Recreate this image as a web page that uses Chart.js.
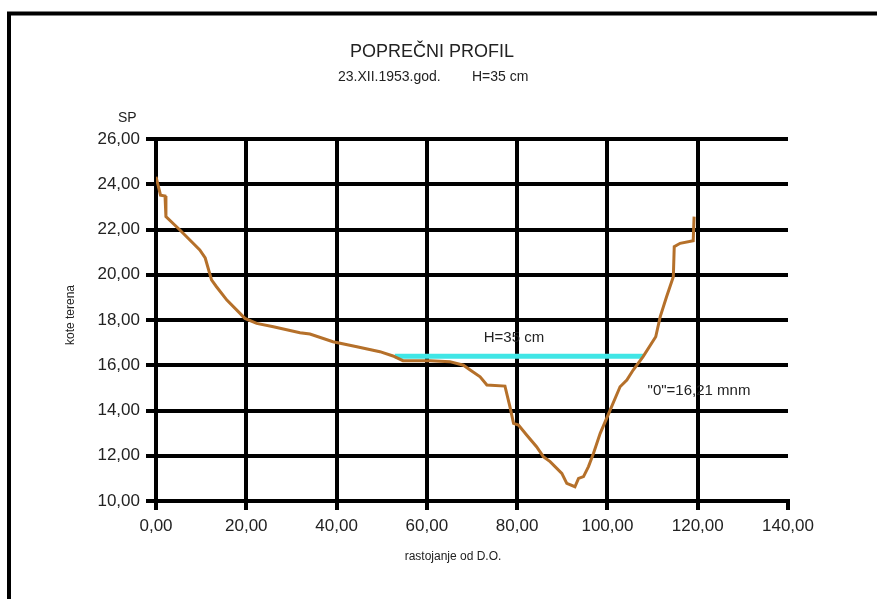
<!DOCTYPE html>
<html>
<head>
<meta charset="utf-8">
<script src="https://cdn.jsdelivr.net/npm/chart.js@4"></script>
<style>
  body { margin: 0; background: #fff; }
  #wrap { width: 877px; height: 599px; position: relative; }
</style>
</head>
<body>
<div id="wrap"><canvas id="profil"></canvas></div>
<script>
// rastojanje od D.O. (m) i kote terena (m n.m.)
const distances = [0, 1.0, 2.0, 2.2, 5.3, 9.7, 10.9, 12.3, 13.4, 15.7, 19.7, 22.3, 26.0, 31.9, 34.1,
  39.2, 44.5, 49.6, 52.5, 54.7, 60.7, 65.1, 68.1, 69.6, 71.8, 73.3, 77.3, 78.4, 79.2, 80.3,
  82.1, 84.3, 85.8, 87.3, 89.9, 91.0, 92.8, 93.6, 94.7, 95.8, 96.9, 98.4, 100.6, 102.8, 104.3,
  105.7, 107.9, 110.7, 111.7, 113.1, 114.6, 114.8, 116.1, 119.0, 119.2];
const elevations = [24.33, 23.52, 23.48, 22.57, 21.98, 21.10, 20.74, 19.77, 19.47, 18.88, 18.07, 17.85, 17.70, 17.44, 17.38,
  17.04, 16.82, 16.60, 16.41, 16.20, 16.20, 16.16, 16.00, 15.79, 15.49, 15.13, 15.08, 14.17, 13.43, 13.36,
  12.92, 12.40, 11.96, 11.74, 11.22, 10.78, 10.63, 11.00, 11.08, 11.52, 12.10, 12.99, 14.02, 15.05, 15.35,
  15.79, 16.38, 17.26, 18.15, 19.03, 19.91, 21.24, 21.39, 21.50, 22.57];

// vodostaj H=35 cm
const waterX = [52.9, 107.9];
const waterLevel = [16.4, 16.4];

const xTicks = [0, 20, 40, 60, 80, 100, 120, 140];
const yTicks = [10, 12, 14, 16, 18, 20, 22, 24, 26];

const fmt = v => v.toFixed(2).replace('.', ',');
const FONT = '"Liberation Sans", Arial, sans-serif';

const labelsPlugin = {
  id: 'labels',
  beforeDraw(chart) {
    const ctx = chart.ctx;
    ctx.save();
    ctx.fillStyle = '#fff';
    ctx.fillRect(0, 0, chart.width, chart.height);
    // okvir
    ctx.strokeStyle = '#000';
    ctx.lineWidth = 4;
    ctx.beginPath();
    ctx.moveTo(9, chart.height);
    ctx.lineTo(9, 13.5);
    ctx.lineTo(chart.width, 13.5);
    ctx.stroke();
    ctx.restore();
  },
  afterDraw(chart) {
    const ctx = chart.ctx;
    const x = chart.scales.x, y = chart.scales.y;
    ctx.save();
    ctx.fillStyle = '#222';
    ctx.textBaseline = 'middle';
    ctx.textAlign = 'center';
    ctx.font = '18px ' + FONT;
    ctx.fillText('POPREČNI PROFIL', 432, 52);
    ctx.font = '14px ' + FONT;
    ctx.textAlign = 'left';
    ctx.fillText('23.XII.1953.god.', 338, 77);
    ctx.fillText('H=35 cm', 472, 77);
    ctx.font = '14px ' + FONT;
    ctx.fillText('SP', 118, 118);
    ctx.font = '15px ' + FONT;
    ctx.fillText('H=35 cm', x.getPixelForValue(72.6), y.getPixelForValue(17.22));
    ctx.fillText('"0"=16,21 mnm', x.getPixelForValue(108.9), y.getPixelForValue(14.85));
    ctx.textAlign = 'center';
    ctx.font = '12px ' + FONT;
    ctx.fillText('rastojanje od D.O.', 453, 557);
    ctx.translate(71, 315);
    ctx.rotate(-Math.PI / 2);
    ctx.fillText('kote terena', 0, 0);
    ctx.restore();
  }
};

new Chart(document.getElementById('profil'), {
  type: 'scatter',
  data: {
    datasets: [{
      label: 'teren',
      data: distances.map((d, i) => ({ x: d, y: elevations[i] })),
      showLine: true,
      borderColor: '#b5702a',
      borderWidth: 3,
      pointRadius: 0,
      tension: 0
    }, {
      label: 'vodostaj',
      data: waterX.map((d, i) => ({ x: d, y: waterLevel[i] })),
      showLine: true,
      borderColor: '#40e6e6',
      borderWidth: 5,
      pointRadius: 0
    }]
  },
  options: {
    responsive: true,
    maintainAspectRatio: false,
    animation: false,
    layout: { padding: { top: 139, right: 89, bottom: 0, left: 0 } },
    plugins: {
      legend: { display: false },
      tooltip: { enabled: false }
    },
    scales: {
      x: {
        type: 'linear',
        min: 0, max: 140,
        afterFit: s => { s.height = 98; },
        afterBuildTicks: s => { s.ticks = xTicks.map(v => ({ value: v })); },
        ticks: { callback: fmt, color: '#222', font: { family: FONT, size: 17 }, padding: 6, maxRotation: 0 },
        grid: {
          color: c => c.tick && c.tick.value === 140 ? 'rgba(0,0,0,0)' : '#000',
          tickColor: '#000',
          lineWidth: 4,
          tickLength: 9
        },
        border: { color: '#000', width: 4 }
      },
      y: {
        min: 10, max: 26,
        afterFit: s => { s.width = 156; },
        afterBuildTicks: s => { s.ticks = yTicks.map(v => ({ value: v })); },
        ticks: { callback: fmt, color: '#222', font: { family: FONT, size: 17 }, padding: 6 },
        grid: { color: '#000', lineWidth: 4, tickLength: 10 },
        border: { color: '#000', width: 4 }
      }
    }
  },
  plugins: [labelsPlugin]
});
</script>
</body>
</html>
